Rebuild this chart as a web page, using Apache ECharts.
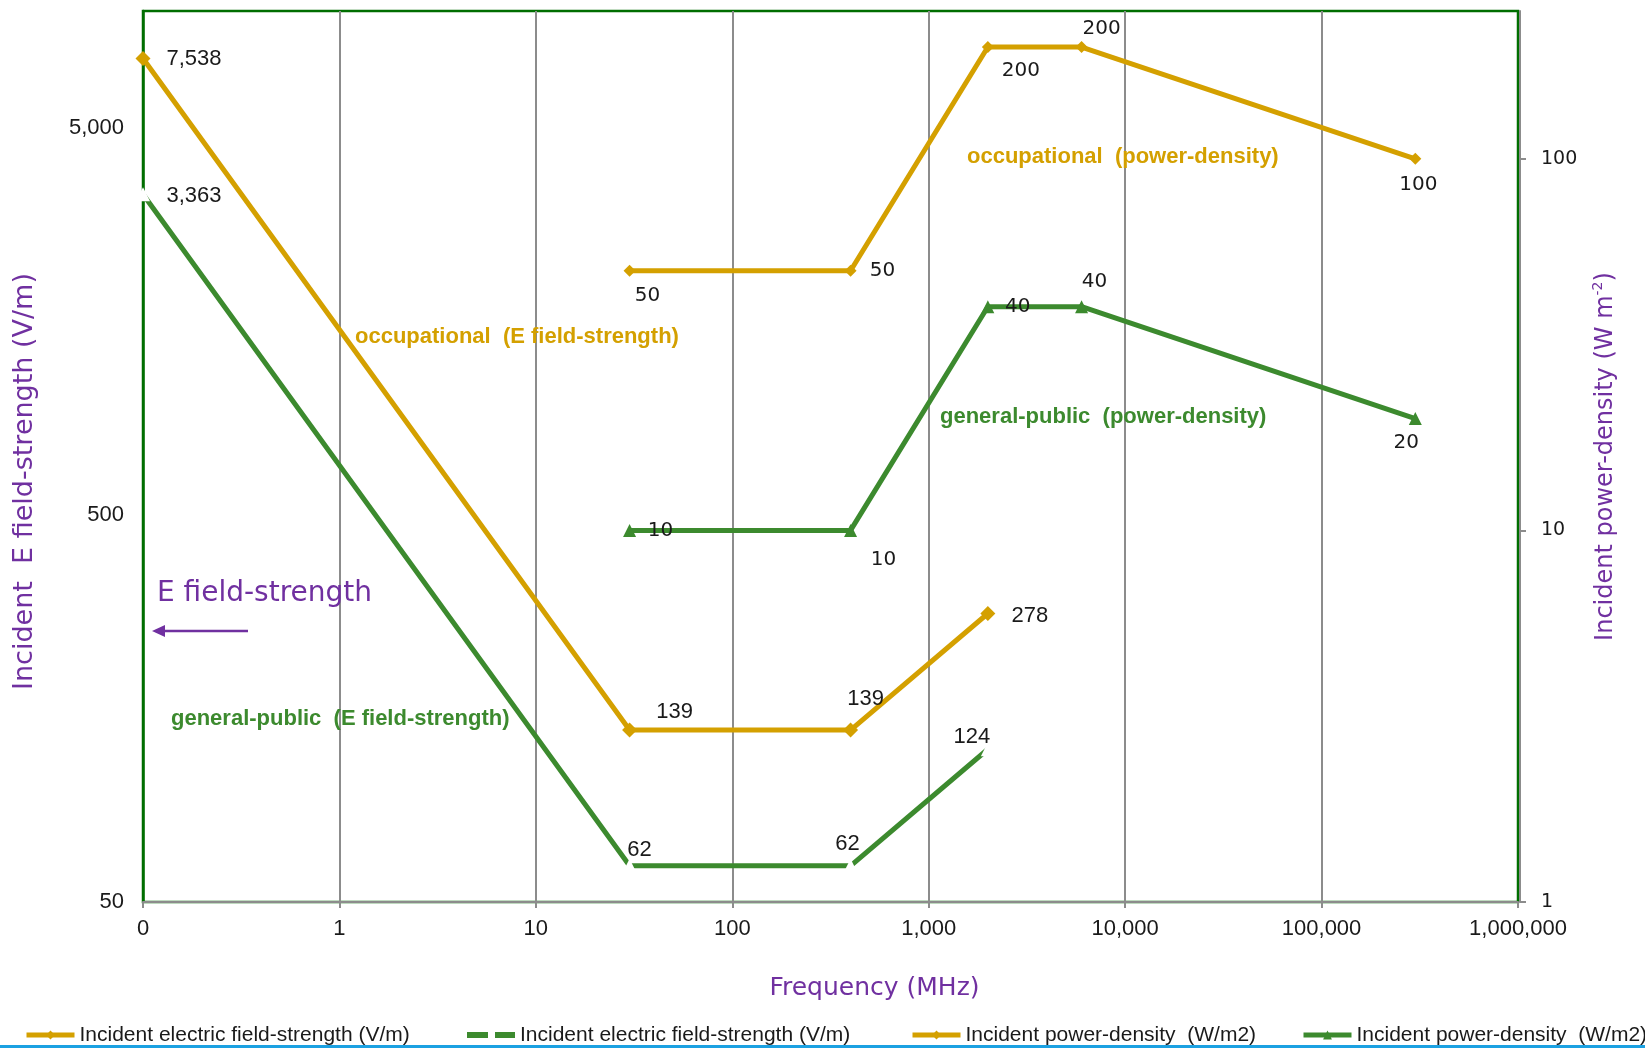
<!DOCTYPE html>
<html><head><meta charset="utf-8">
<script src="https://cdn.jsdelivr.net/npm/echarts@6/dist/echarts.min.js"></script>
<style>html,body{margin:0;padding:0;background:#fff}#c{width:1645px;height:1048px}</style>
</head><body><div id="c"></div>
<script>
// ---- data ----
const freqE = [0.1, 30, 400, 2000];
const occE = [7538, 139, 139, 278];
const gpE = [3363, 62, 62, 124];
const freqPD = [30, 400, 2000, 6000, 300000];
const occPD = [50, 50, 200, 200, 100];
const gpPD = [10, 10, 40, 40, 20];
const xTicks = [0.1, 1, 10, 100, 1000, 10000, 100000, 1000000];
const xTickLabels = ['0', '1', '10', '100', '1,000', '10,000', '100,000', '1,000,000'];
const leftTicks = [50, 500, 5000];
const rightTicks = [1, 10, 100];
const seriesNames = ['occE', 'gpE', 'occPD', 'gpPD'];
const legendLabels = ['Incident electric field-strength (V/m)', 'Incident electric field-strength (V/m)',
  'Incident power-density  (W/m2)', 'Incident power-density  (W/m2)'];

// ---- styling (label offsets in px, relative to point) ----
const offOccE = [[51, 0], [45, -18], [15, -31], [42, 2]];
const offGpE = [[51, 2], [10, -16], [-3, -22], [-16, -12]];
const offOccPD = [[18, 25], [32, 0], [33, 24], [20, -18], [3, 26]];
const offGpPD = [[31, 0], [33, 29], [30, 0], [13, -25], [-9, 24]];
const legendLeft = [24, 467, 910, 1301];

const GOLD = '#D4A000', GREEN = '#3C8A2E', PURPLE = '#7030A0', DKGREEN = '#006E00', GRID = '#8C8C8C';

function near(list, v) { return list.findIndex(t => Math.abs(t - v) / t < 1e-6); }
function build(xs, ys, offs) {
  return xs.map((x, i) => ({ value: [x, ys[i]], label: { offset: offs[i] } }));
}
const fmt = p => p.value[1].toLocaleString('en-US');

const legends = seriesNames.map((n, i) => ({
  left: legendLeft[i], top: 1024, padding: 0, itemWidth: 48, itemHeight: 11, itemGap: 0, symbolKeepAspect: true,
  lineStyle: { width: 5 },
  textStyle: { fontFamily: 'Liberation Sans', fontSize: 21, color: '#1a1a1a', lineHeight: 22 },
  formatter: name => legendLabels[seriesNames.indexOf(name)],
  data: [n === 'gpE'
    ? { name: n, icon: 'path://M0 0h21v6h-21zM28 0h20v6h-20z', itemStyle: { color: GREEN } }
    : { name: n }]
}));

const chart = echarts.init(document.getElementById('c'), null, { renderer: 'canvas' });
const option = {
  animation: false,
  backgroundColor: '#fff',
  grid: { left: 143, right: 127, top: 11, bottom: 146, show: true, borderColor: DKGREEN, borderWidth: 2.5, backgroundColor: 'transparent' },
  xAxis: {
    type: 'log', logBase: 10, min: 0.1, max: 1000000, interval: 1,
    axisLine: { show: true, lineStyle: { color: GRID, width: 2 } },
    axisTick: { show: true, length: 6, lineStyle: { color: GRID, width: 2 } },
    splitLine: { show: true, showMinLine: false, showMaxLine: false, lineStyle: { color: GRID, width: 2 } },
    minorTick: { show: false }, minorSplitLine: { show: false },
    axisLabel: {
      margin: 16, fontFamily: 'Liberation Sans', fontSize: 22, color: '#1a1a1a',
      formatter: v => { const i = near(xTicks, v); return i >= 0 ? xTickLabels[i] : ''; }
    },
    name: 'Frequency (MHz)', nameLocation: 'middle', nameGap: 74,
    nameTextStyle: { fontFamily: 'DejaVu Sans', fontSize: 25, color: PURPLE, padding: [0, 0, 0, 88] }
  },
  yAxis: [
    {
      type: 'log', logBase: 10, min: 50, max: 10000, position: 'left',
      axisLine: { show: true, lineStyle: { color: DKGREEN, width: 2.5 } },
      axisTick: { show: false, customValues: leftTicks }, splitLine: { show: false }, minorTick: { show: false },
      axisLabel: {
        margin: 19, fontFamily: 'Liberation Sans', fontSize: 22, color: '#1a1a1a',
        customValues: leftTicks,
        formatter: v => near(leftTicks, v) >= 0 ? v.toLocaleString('en-US') : ''
      },
      name: 'Incident  E field-strength (V/m)', nameLocation: 'middle', nameRotate: 90, nameGap: 105,
      nameTextStyle: { fontFamily: 'DejaVu Sans', fontSize: 27, color: PURPLE, padding: [0, 50, 0, 0] }
    },
    {
      type: 'log', logBase: 10, min: 1, max: 250, interval: 1, position: 'right', offset: 2,
      axisLine: { show: true, lineStyle: { color: GRID, width: 2 } },
      axisTick: { show: true, length: 6, lineStyle: { color: GRID, width: 2 }, customValues: rightTicks },
      splitLine: { show: false }, minorTick: { show: false },
      axisLabel: {
        margin: 21, fontFamily: 'DejaVu Sans', fontSize: 19, color: '#1a1a1a',
        formatter: v => near(rightTicks, v) >= 0 ? v.toLocaleString('en-US') : ''
      },
      name: 'Incident power-density (W m{sup|-2})', nameLocation: 'middle', nameRotate: 90, nameGap: 71,
      nameTextStyle: {
        fontFamily: 'DejaVu Sans', fontSize: 24, color: PURPLE, lineHeight: 30,
        rich: { sup: { fontFamily: 'DejaVu Sans', fontSize: 14, color: PURPLE, verticalAlign: 'top', lineHeight: 30, padding: [0, 0, 14, 0] } }
      }
    }
  ],
  legend: legends,
  series: [
    {
      name: 'occE', type: 'line', yAxisIndex: 0, clip: false, z: 3,
      data: build(freqE, occE, offOccE),
      symbol: 'diamond', symbolSize: 15,
      lineStyle: { color: GOLD, width: 5 }, itemStyle: { color: GOLD },
      label: { show: true, position: 'inside', formatter: fmt, fontFamily: 'Liberation Sans', fontSize: 22, color: '#1a1a1a' }
    },
    {
      name: 'gpE', type: 'line', yAxisIndex: 0, clip: false, z: 3,
      data: build(freqE, gpE, offGpE),
      symbol: 'triangle', symbolSize: 14,
      lineStyle: { color: GREEN, width: 5 }, itemStyle: { color: '#ffffff' },
      label: { show: true, position: 'inside', formatter: fmt, fontFamily: 'Liberation Sans', fontSize: 22, color: '#1a1a1a' }
    },
    {
      name: 'occPD', type: 'line', yAxisIndex: 1, clip: false, z: 3,
      data: build(freqPD, occPD, offOccPD),
      symbol: 'diamond', symbolSize: 12,
      lineStyle: { color: GOLD, width: 5 }, itemStyle: { color: GOLD },
      label: { show: true, position: 'inside', formatter: fmt, fontFamily: 'DejaVu Sans', fontSize: 20, color: '#1a1a1a' }
    },
    {
      name: 'gpPD', type: 'line', yAxisIndex: 1, clip: false, z: 3,
      data: build(freqPD, gpPD, offGpPD),
      symbol: 'triangle', symbolSize: 13,
      lineStyle: { color: GREEN, width: 5 }, itemStyle: { color: GREEN },
      label: { show: true, position: 'inside', formatter: fmt, fontFamily: 'DejaVu Sans', fontSize: 20, color: '#1a1a1a' }
    }
  ],
  graphic: [
    { type: 'text', left: 355, top: 326, z: 10, style: { text: 'occupational  (E field-strength)', font: 'bold 22px "Liberation Sans"', fill: GOLD } },
    { type: 'text', left: 967, top: 146, z: 10, style: { text: 'occupational  (power-density)', font: 'bold 22px "Liberation Sans"', fill: GOLD } },
    { type: 'text', left: 940, top: 406, z: 10, style: { text: 'general-public  (power-density)', font: 'bold 22px "Liberation Sans"', fill: GREEN } },
    { type: 'text', left: 171, top: 708, z: 10, style: { text: 'general-public  (E field-strength)', font: 'bold 22px "Liberation Sans"', fill: GREEN } },
    { type: 'text', left: 157, top: 580, z: 10, style: { text: 'E field-strength', font: '28px "DejaVu Sans"', fill: PURPLE } },
    { type: 'line', z: 10, shape: { x1: 248, y1: 631, x2: 162, y2: 631 }, style: { stroke: PURPLE, lineWidth: 2.5 } },
    { type: 'polygon', z: 10, shape: { points: [[152, 631], [165, 625], [165, 637]] }, style: { fill: PURPLE } },
    { type: 'rect', z: 10, shape: { x: 0, y: 1045, width: 1645, height: 3 }, style: { fill: '#1BA1E2' } }
  ]
};
chart.setOption(option);
</script>
</body></html>
